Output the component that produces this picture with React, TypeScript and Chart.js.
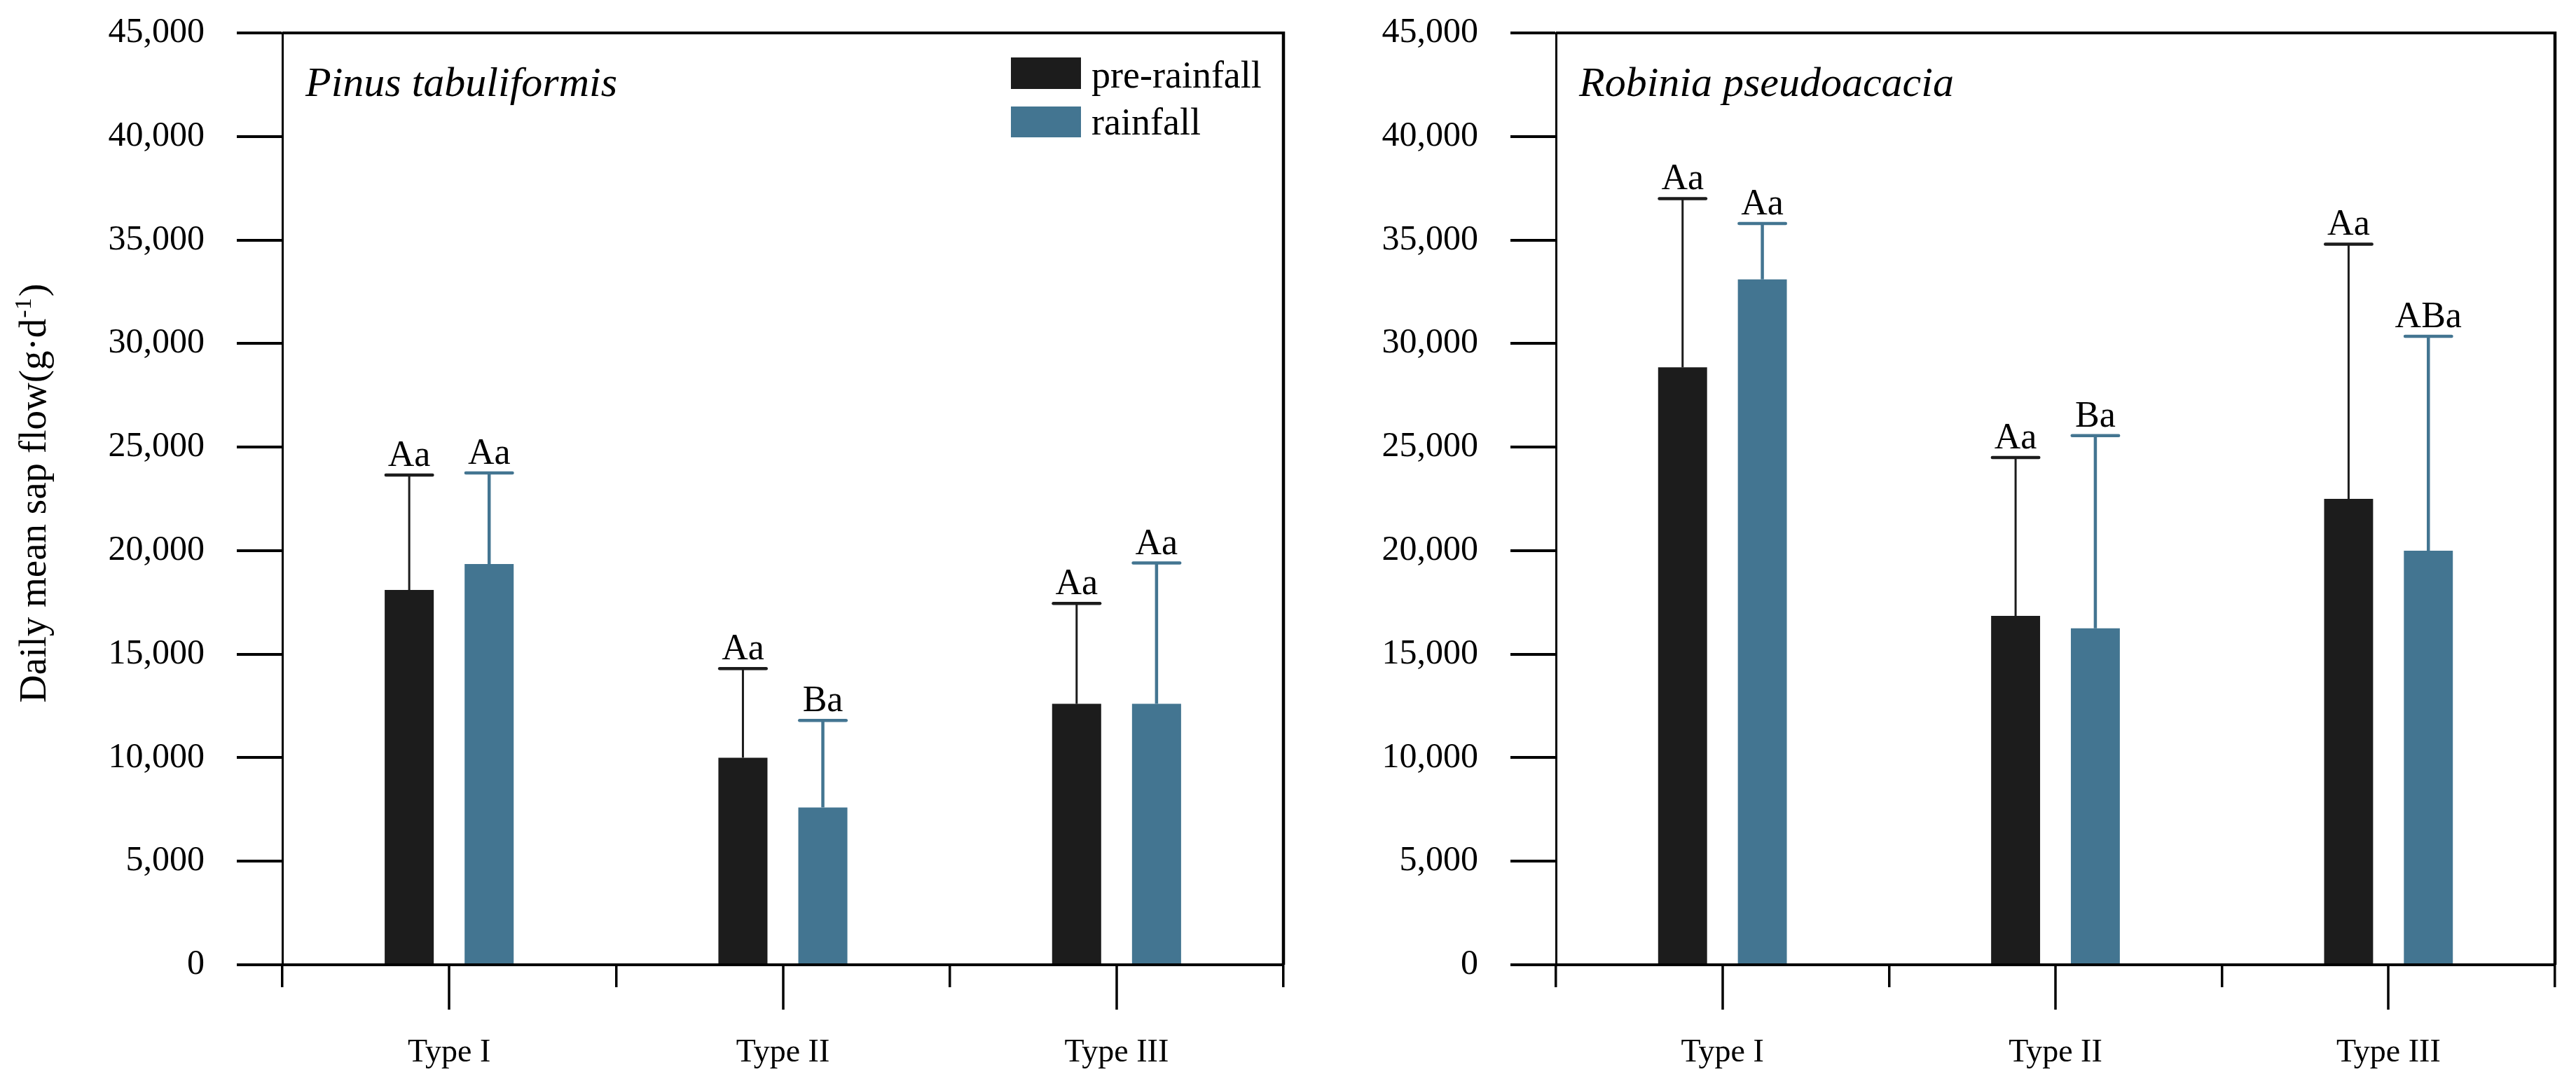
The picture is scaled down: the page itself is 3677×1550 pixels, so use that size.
import React, { useEffect, useRef } from 'react';
import { Chart, registerables } from 'chart.js';

Chart.register(...registerables);

// ---------------- data ----------------
const categories = ['Type I', 'Type II', 'Type III'];
const seriesNames = ['pre-rainfall', 'rainfall'];
const yTickValues = [0, 5000, 10000, 15000, 20000, 25000, 30000, 35000, 40000, 45000];

const pinusPre = [18100, 10000, 12600];
const pinusPreErr = [5550, 4300, 4850];
const pinusRain = [19350, 7600, 12600];
const pinusRainErr = [4400, 4200, 6800];
const pinusPreLetters = ['Aa', 'Aa', 'Aa'];
const pinusRainLetters = ['Aa', 'Ba', 'Aa'];

const robiniaPre = [28850, 16850, 22500];
const robiniaPreErr = [8150, 7650, 12300];
const robiniaRain = [33100, 16250, 20000];
const robiniaRainErr = [2700, 9300, 10350];
const robiniaPreLetters = ['Aa', 'Aa', 'Aa'];
const robiniaRainLetters = ['Aa', 'Ba', 'ABa'];

const preColor = '#1c1c1c';
const rainColor = '#437591';
const FONT = "'Liberation Serif', 'Times New Roman', serif";

type PanelProps = {
  title: string;
  pre: number[];
  preErr: number[];
  rain: number[];
  rainErr: number[];
  preLetters: string[];
  rainLetters: string[];
  width: number;
  height: number;
  left: number;
  yWidth: number;
  padRight: number;
  showLegend: boolean;
  showYTitle: boolean;
};

function Panel(p: PanelProps) {
  const ref = useRef<HTMLCanvasElement | null>(null);
  useEffect(() => {
    if (!ref.current) return;
    const errs = [p.preErr, p.rainErr];
    const letters = [p.preLetters, p.rainLetters];

    const overlay = {
      id: 'overlay',
      afterDraw(chart: any) {
        const ctx = chart.ctx;
        const area = chart.chartArea;
        const xs = chart.scales.x;
        const ys = chart.scales.y;
        ctx.save();
        // top & right frame
        ctx.strokeStyle = '#000';
        ctx.lineWidth = 4;
        ctx.beginPath();
        ctx.moveTo(area.left, area.top);
        ctx.lineTo(area.right + 2, area.top);
        ctx.stroke();
        ctx.lineWidth = 4.5;
        ctx.beginPath();
        ctx.moveTo(area.right, area.top - 2);
        ctx.lineTo(area.right, area.bottom);
        ctx.stroke();
        // major ticks at category centres
        ctx.lineWidth = 3.5;
        categories.forEach((_, i) => {
          const x = Math.round(xs.getPixelForValue(i));
          ctx.beginPath();
          ctx.moveTo(x, area.bottom);
          ctx.lineTo(x, area.bottom + 64);
          ctx.stroke();
        });
        // error bars + letters
        [0, 1].forEach((d) => {
          const meta = chart.getDatasetMeta(d);
          const color = d === 0 ? preColor : rainColor;
          meta.data.forEach((el: any, i: number) => {
            const v = chart.data.datasets[d].data[i] as number;
            const topY = ys.getPixelForValue(v + errs[d][i]);
            const x = el.x;
            const capW = el.width * 0.95;
            ctx.strokeStyle = color;
            ctx.lineCap = 'butt';
            ctx.lineWidth = d === 0 ? 3 : 4.5;
            ctx.beginPath();
            ctx.moveTo(x, el.y);
            ctx.lineTo(x, topY);
            ctx.stroke();
            ctx.lineCap = 'round';
            ctx.lineWidth = 4.5;
            ctx.beginPath();
            ctx.moveTo(x - capW / 2, topY);
            ctx.lineTo(x + capW / 2, topY);
            ctx.stroke();
            ctx.fillStyle = '#000';
            ctx.font = `52px ${FONT}`;
            ctx.textAlign = 'center';
            ctx.textBaseline = 'alphabetic';
            ctx.fillText(letters[d][i], x, topY - 13);
          });
        });
        // species title
        ctx.fillStyle = '#000';
        ctx.font = `italic 60px ${FONT}`;
        ctx.textAlign = 'left';
        ctx.textBaseline = 'alphabetic';
        ctx.fillText(p.title, area.left + 33, 137);
        // legend
        if (p.showLegend) {
          const bx = area.right - 389;
          ctx.fillStyle = preColor;
          ctx.fillRect(bx, 82, 100, 45);
          ctx.fillStyle = rainColor;
          ctx.fillRect(bx, 152, 100, 44);
          ctx.fillStyle = '#000';
          ctx.font = `54px ${FONT}`;
          ctx.fillText(seriesNames[0], bx + 115, 125);
          ctx.fillText(seriesNames[1], bx + 115, 192);
        }
        // y-axis title
        if (p.showYTitle) {
          ctx.translate(65, 1003);
          ctx.rotate(-Math.PI / 2);
          ctx.fillStyle = '#000';
          ctx.textAlign = 'left';
          ctx.font = `55px ${FONT}`;
          const main = 'Daily mean sap flow(g·d';
          ctx.fillText(main, 0, 0);
          let w = ctx.measureText(main).width;
          ctx.font = `34px ${FONT}`;
          ctx.fillText('-1', w + 1, -21);
          w += ctx.measureText('-1').width + 3;
          ctx.font = `55px ${FONT}`;
          ctx.fillText(')', w, 0);
        }
        ctx.restore();
      },
    };

    const chart = new Chart(ref.current, {
      type: 'bar',
      data: {
        labels: categories,
        datasets: [
          {
            label: seriesNames[0],
            data: p.pre,
            backgroundColor: preColor,
            borderWidth: 0,
            categoryPercentage: 0.479,
            barPercentage: 0.614,
          },
          {
            label: seriesNames[1],
            data: p.rain,
            backgroundColor: rainColor,
            borderWidth: 0,
            categoryPercentage: 0.479,
            barPercentage: 0.614,
          },
        ],
      },
      options: {
        animation: false,
        responsive: false,
        devicePixelRatio: 1,
        events: [],
        layout: { padding: { left: 0, top: 47, right: p.padRight, bottom: 0 } },
        plugins: { legend: { display: false }, tooltip: { enabled: false } },
        scales: {
          x: {
            type: 'category',
            offset: true,
            grid: {
              offset: true,
              drawOnChartArea: false,
              tickLength: 32,
              lineWidth: 3.5,
              color: '#000',
            },
            border: { display: true, width: 4, color: '#000' },
            ticks: { padding: 66, color: '#000', font: { family: FONT, size: 46 } },
            afterFit: (s: any) => {
              s.height = p.height - 1377;
              s.paddingLeft = 0;
              s.paddingRight = 0;
            },
          },
          y: {
            min: 0,
            max: 45000,
            grid: {
              drawOnChartArea: false,
              tickLength: 65,
              lineWidth: 4,
              color: '#000',
            },
            border: { display: true, width: 3, color: '#000' },
            afterBuildTicks: (s: any) => {
              s.ticks = yTickValues.map((v) => ({ value: v }));
            },
            ticks: {
              padding: 46,
              color: '#000',
              font: { family: FONT, size: 50 },
              callback: (v: any) => Number(v).toLocaleString('en-US'),
            },
            afterFit: (s: any) => {
              s.width = p.yWidth;
              s.paddingTop = 0;
              s.paddingBottom = 0;
            },
          },
        },
      },
      plugins: [overlay],
    } as any);
    return () => chart.destroy();
  }, []);
  return (
    <canvas
      ref={ref}
      width={p.width}
      height={p.height}
      style={{ position: 'absolute', left: p.left, top: 0, width: p.width, height: p.height }}
    />
  );
}

export default function App() {
  return (
    <div
      style={{
        position: 'absolute',
        left: 0,
        top: 0,
        width: 3677,
        height: 1550,
        background: '#fff',
        overflow: 'hidden',
      }}
    >
      <Panel
        title="Pinus tabuliformis"
        pre={pinusPre}
        preErr={pinusPreErr}
        rain={pinusRain}
        rainErr={pinusRainErr}
        preLetters={pinusPreLetters}
        rainLetters={pinusRainLetters}
        width={1900}
        height={1550}
        left={0}
        yWidth={403}
        padRight={68}
        showLegend={true}
        showYTitle={true}
      />
      <Panel
        title="Robinia pseudoacacia"
        pre={robiniaPre}
        preErr={robiniaPreErr}
        rain={robiniaRain}
        rainErr={robiniaRainErr}
        preLetters={robiniaPreLetters}
        rainLetters={robiniaRainLetters}
        width={1777}
        height={1550}
        left={1900}
        yWidth={321}
        padRight={30}
        showLegend={false}
        showYTitle={false}
      />
    </div>
  );
}
